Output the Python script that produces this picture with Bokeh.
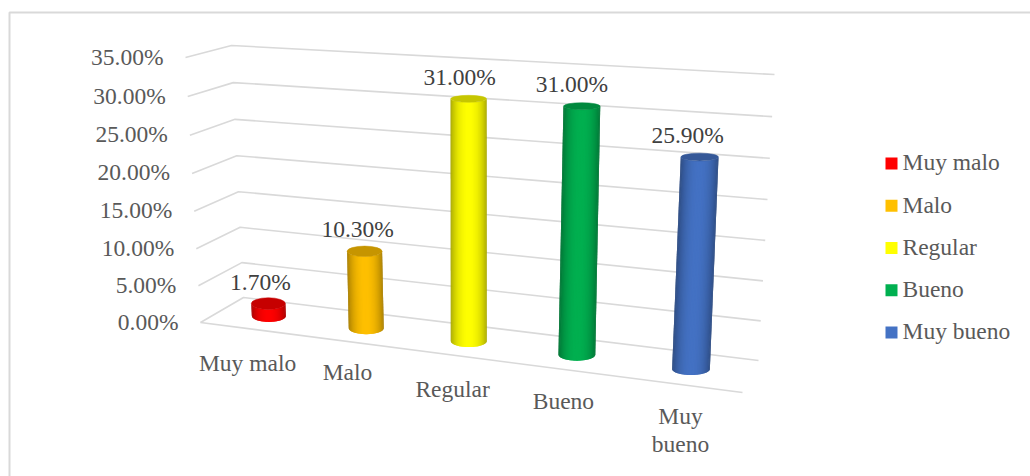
from math import pi, cos, sin
from bokeh.plotting import figure
from bokeh.embed import file_html
from bokeh.resources import INLINE
from bokeh.core.properties import value

CATEGORIES = ["Muy malo", "Malo", "Regular", "Bueno", "Muy bueno"]
VALUES = [1.70, 10.30, 31.00, 31.00, 25.90]
COLORS = ["#FF0000", "#FFC000", "#FFFF00", "#00B050", "#4472C4"]
TICKS = [0, 5, 10, 15, 20, 25, 30, 35]
CATEGORY_LINES = [["Muy malo"], ["Malo"], ["Regular"], ["Bueno"], ["Muy", "bueno"]]

FONT = value("Liberation Serif")
FS = "23.5px"
AXIS_C = "#595959"
LABEL_C = "#404040"
GRID_C = "#D9D9D9"

# chart box corners, page pixels (front/back, left/right, bottom/top)
FL0, FLT = (200, 322), (185, 57)
FR0, FRT = (742, 392), (756, 92)
BL0, BLT = (243, 297), (231, 45)
BR0, BRT = (758, 360), (774, 74)
VMAX = TICKS[-1]


def lerp(a, b, t):
    return (a[0] + (b[0] - a[0]) * t, a[1] + (b[1] - a[1]) * t)


def project(x, v, z):
    """x: 0..1 along categories, v: axis value, z: 0 front .. 1 back"""
    c, b = -0.124, -0.001
    s = x * (1 + c) / (1 + c * x)
    t = v * (1 + b * VMAX) / (VMAX * (1 + b * v))
    front = lerp(lerp(FL0, FLT, t), lerp(FR0, FRT, t), s)
    back = lerp(lerp(BL0, BLT, t), lerp(BR0, BRT, t), s)
    return lerp(front, back, z)


def shade(hex_color, f):
    r, g, b = (int(hex_color[i:i + 2], 16) for i in (1, 3, 5))
    return "#%02X%02X%02X" % (int(r * f), int(g * f), int(b * f))


p = figure(width=1030, height=476, x_range=(0, 1030), y_range=(476, 0),
           output_backend="svg", toolbar_location=None, min_border=0,
           outline_line_color=None, background_fill_color="white")
p.axis.visible = False
p.grid.visible = False

# outer chart frame
p.line([9, 9, 1030], [476, 12, 12], line_color=GRID_C, line_width=2)

# gridlines: left wall + back wall
xs, ys = [], []
for tk in TICKS:
    pts = [project(0, tk, 0), project(0, tk, 1), project(1, tk, 1)]
    xs.append([q[0] for q in pts])
    ys.append([q[1] for q in pts])
pts = [project(0, 0, 0), project(1, 0, 0)]
xs.append([q[0] for q in pts])
ys.append([q[1] for q in pts])
p.multi_line(xs, ys, line_color=GRID_C, line_width=1.6)

# cylinders: strips overlap so that no seams show
N = 40
for i, (val, col) in enumerate(zip(VALUES, COLORS)):
    x = (i + 0.5) / len(VALUES)
    bot = project(x, 0, 0.5)
    top = project(x, val, 0.5)
    r = 16.8 + 2.3 * x
    ry_b = 6.0
    ry_t = 6.0 - 0.08 * val
    sx, sy, sc = [], [], []
    for k in range(N):
        a0 = pi * k / N
        a1 = pi * min(k + 2, N) / N
        sx.append([top[0] + r * cos(a0), top[0] + r * cos(a1),
                   bot[0] + r * cos(a1), bot[0] + r * cos(a0)])
        sy.append([top[1] + ry_t * sin(a0), top[1] + ry_t * sin(a1),
                   bot[1] + ry_b * sin(a1), bot[1] + ry_b * sin(a0)])
        sc.append(shade(col, 0.64 + 0.36 * sin(pi * (k + 0.5) / N) ** 1.5))
    p.patches(sx, sy, fill_color=sc, line_color=None)
    p.ellipse([top[0]], [top[1]], width=2 * r, height=2 * ry_t,
              fill_color=shade(col, 0.78), line_color=shade(col, 0.78), line_width=0.5)

# value labels
LABEL_DX = [-8, -7, -9, -10, -12]
for i, val in enumerate(VALUES):
    top = project((i + 0.5) / len(VALUES), val, 0.5)
    p.text([top[0] + LABEL_DX[i]], [top[1] - 22], text=[f"{val:.2f}%"], text_font=FONT,
           text_font_size=FS, text_color=LABEL_C, text_align="center", text_baseline="middle")

# axis tick labels
for tk in TICKS:
    q = project(0, tk, 0)
    p.text([q[0] - 22], [q[1] - 1], text=[f"{tk:.2f}%"], text_font=FONT,
           text_font_size=FS, text_color=AXIS_C, text_align="right", text_baseline="middle")

# category labels
LABEL_DY = [34.5, 30.5, 33.5, 31.5, 31.5]
for i, lines in enumerate(CATEGORY_LINES):
    q = project((i + 0.5) / len(CATEGORY_LINES), 0, 0)
    for j, line in enumerate(lines):
        p.text([q[0] - 1], [q[1] + LABEL_DY[i] + 28 * j], text=[line], text_font=FONT,
               text_font_size=FS, text_color=AXIS_C, text_align="center", text_baseline="middle")

# legend
for i, (name, col) in enumerate(zip(CATEGORIES, COLORS)):
    y = 163 + 42.25 * i
    p.rect([891], [y], width=12, height=12, fill_color=col, line_color=None)
    p.text([902], [y - 1.2], text=[name], text_font=FONT, text_font_size=FS,
           text_color=AXIS_C, text_align="left", text_baseline="middle")

open("out.html", "w").write(file_html(p, INLINE))
